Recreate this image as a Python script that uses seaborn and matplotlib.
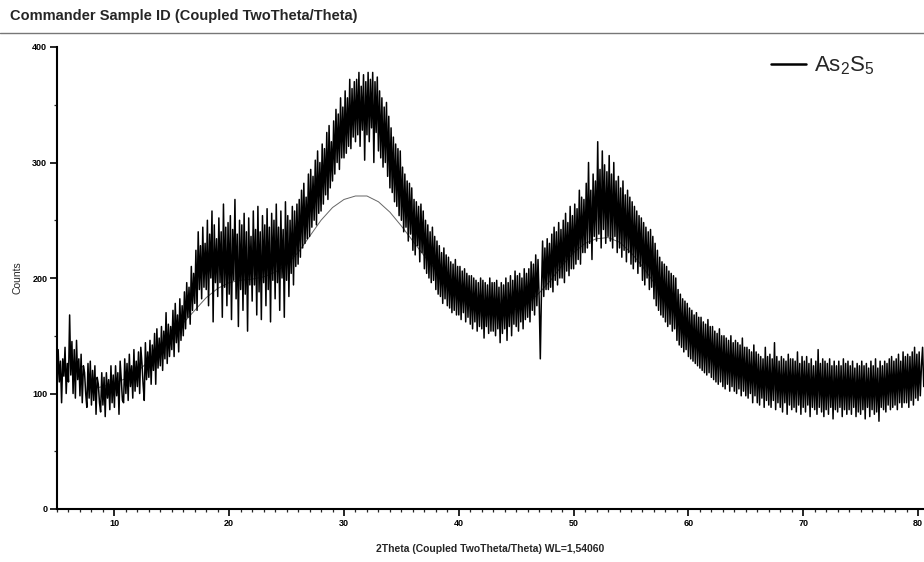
import numpy as np
import pandas as pd
import matplotlib
matplotlib.use("Agg")
import matplotlib.pyplot as plt
import seaborn as sns

# ---- data ----
two_theta_start = 5.0
two_theta_step = 0.1
counts = [
    104, 138, 110, 128, 92, 130, 115, 140, 100, 126,
    110, 168, 116, 145, 100, 138, 96, 146, 112, 130,
    98, 134, 92, 124, 118, 100, 88, 126, 96, 128,
    90, 120, 94, 124, 82, 114, 108, 92, 84, 118,
    90, 114, 80, 118, 96, 112, 86, 124, 92, 116,
    88, 124, 98, 118, 82, 128, 112, 94, 92, 130,
    100, 126, 94, 134, 106, 124, 96, 138, 102, 128,
    106, 136, 100, 140, 126, 108, 94, 144, 112, 136,
    114, 146, 108, 142, 120, 152, 108, 156, 122, 148,
    124, 158, 120, 154, 130, 170, 126, 160, 132, 158,
    138, 172, 132, 178, 144, 168, 136, 182, 146, 176,
    150, 188, 156, 196, 166, 192, 160, 210, 172, 204,
    178, 224, 172, 240, 190, 228, 182, 244, 192, 230,
    190, 250, 176, 238, 200, 258, 162, 246, 196, 234,
    184, 252, 196, 240, 166, 264, 192, 244, 176, 248,
    186, 254, 164, 242, 198, 268, 182, 238, 158, 250,
    190, 246, 172, 256, 186, 240, 154, 252, 194, 236,
    180, 258, 194, 242, 168, 262, 188, 240, 164, 254,
    196, 246, 176, 260, 190, 244, 162, 256, 198, 250,
    182, 264, 196, 244, 172, 258, 200, 242, 166, 266,
    198, 254, 184, 250, 204, 262, 194, 258, 210, 264,
    212, 268, 218, 276, 226, 282, 230, 270, 234, 290,
    236, 294, 244, 288, 250, 302, 246, 310, 256, 300,
    258, 316, 264, 312, 272, 326, 268, 332, 278, 318,
    284, 336, 290, 346, 300, 342, 294, 356, 304, 348,
    304, 362, 308, 356, 314, 372, 312, 364, 322, 370,
    318, 372, 324, 378, 314, 366, 328, 376, 302, 370,
    324, 378, 318, 372, 330, 378, 300, 370, 326, 374,
    310, 362, 304, 356, 296, 348, 300, 352, 288, 340,
    278, 330, 274, 322, 266, 316, 262, 312, 254, 310,
    250, 296, 240, 290, 244, 284, 232, 282, 238, 278,
    224, 268, 220, 266, 228, 262, 214, 264, 222, 258,
    208, 250, 204, 246, 200, 240, 196, 244, 198, 236,
    190, 232, 186, 228, 184, 222, 178, 226, 182, 220,
    176, 218, 174, 214, 170, 212, 172, 216, 168, 210,
    168, 210, 164, 206, 170, 208, 162, 204, 166, 202,
    160, 202, 156, 200, 162, 198, 154, 196, 158, 200,
    156, 198, 148, 196, 158, 194, 152, 200, 154, 196,
    154, 196, 150, 198, 156, 192, 144, 196, 152, 194,
    156, 200, 146, 196, 158, 202, 150, 198, 160, 206,
    158, 202, 154, 204, 162, 200, 156, 208, 164, 204,
    166, 208, 162, 214, 172, 212, 168, 220, 176, 216,
    182, 130, 188, 232, 184, 226, 190, 234, 190, 230,
    192, 238, 188, 244, 198, 240, 194, 248, 200, 242,
    200, 250, 196, 256, 206, 248, 202, 262, 208, 254,
    208, 264, 212, 260, 216, 276, 212, 270, 222, 268,
    222, 282, 226, 300, 230, 276, 216, 290, 236, 284,
    232, 318, 238, 294, 226, 310, 242, 298, 230, 292,
    236, 306, 232, 290, 226, 300, 236, 284, 222, 288,
    226, 278, 218, 284, 224, 272, 214, 276, 222, 270,
    212, 266, 208, 262, 214, 258, 204, 254, 210, 252,
    198, 248, 194, 244, 200, 240, 190, 242, 192, 236,
    182, 230, 176, 224, 172, 218, 168, 214, 166, 212,
    162, 210, 158, 206, 160, 204, 154, 202, 156, 200,
    146, 190, 142, 186, 140, 182, 136, 180, 138, 178,
    132, 174, 130, 172, 128, 168, 126, 170, 124, 166,
    122, 166, 120, 162, 118, 160, 116, 164, 118, 158,
    114, 158, 112, 154, 110, 152, 108, 156, 110, 150,
    106, 150, 104, 148, 108, 146, 102, 150, 106, 144,
    102, 146, 100, 144, 104, 142, 98, 148, 102, 140,
    98, 140, 96, 138, 100, 136, 92, 142, 98, 136,
    92, 134, 90, 132, 96, 130, 88, 140, 94, 132,
    90, 134, 88, 130, 94, 144, 86, 132, 92, 128,
    88, 132, 84, 130, 92, 128, 82, 134, 90, 130,
    86, 130, 88, 128, 84, 136, 90, 126, 82, 132,
    88, 128, 84, 132, 90, 126, 80, 130, 88, 124,
    86, 128, 82, 138, 88, 126, 84, 130, 80, 128,
    86, 126, 82, 130, 88, 124, 78, 128, 86, 124,
    84, 128, 88, 124, 80, 130, 86, 126, 82, 128,
    86, 124, 82, 128, 88, 122, 80, 126, 84, 124,
    82, 128, 86, 124, 78, 126, 88, 122, 80, 128,
    86, 124, 82, 130, 84, 122, 76, 128, 88, 124,
    86, 128, 84, 126, 90, 130, 86, 132, 88, 128,
    90, 130, 86, 134, 92, 128, 88, 136, 92, 132,
    92, 134, 88, 132, 94, 136, 90, 140, 96, 134,
    94, 136, 98, 124, 140, 106,
]

fit_theta = [8, 9, 10, 11, 12, 13, 14, 15, 16, 17, 18, 19, 20, 21, 22, 23, 24, 25,
             26, 27, 28, 29, 30, 31, 32, 33, 34, 35, 36, 37, 38, 39, 40, 41, 42,
             43, 44, 45, 46, 47, 48, 49, 50, 51, 52, 53, 54, 55, 56, 57, 58, 59,
             60, 61, 62, 63, 64, 65, 66]
fit_counts = [104, 106, 109, 113, 119, 128, 139, 150, 161, 172, 183, 191, 196, 198,
              199, 201, 205, 212, 222, 236, 250, 261, 268, 271, 271, 266, 257, 245,
              232, 219, 207, 196, 187, 180, 175, 172, 171, 173, 178, 187, 198, 211,
              222, 230, 234, 235, 231, 222, 210, 196, 181, 167, 154, 143, 134, 126,
              120, 115, 111]

x_ticks = [10, 20, 30, 40, 50, 60, 70, 80]
y_ticks = [0, 100, 200, 300, 400]
title = "Commander Sample ID (Coupled TwoTheta/Theta)"
x_label = "2Theta (Coupled TwoTheta/Theta) WL=1,54060"
y_label = "Counts"
series_label = r"As$_\mathregular{2}$S$_\mathregular{5}$"

# ---- frame ----
two_theta = two_theta_start + two_theta_step * np.arange(len(counts))
df = pd.DataFrame({"two_theta": two_theta, "counts": counts})
fit_df = pd.DataFrame({"two_theta": fit_theta, "counts": fit_counts})

sns.set_style("ticks")
plt.rcParams["font.family"] = ["Liberation Sans", "DejaVu Sans"]
plt.rcParams["mathtext.fontset"] = "custom"
plt.rcParams["mathtext.rm"] = "Liberation Sans"

fig = plt.figure(figsize=(9.24, 5.62), dpi=100)
ax = fig.add_axes([57 / 924, 1 - 509 / 562, 867 / 924, 462 / 562])

sns.lineplot(data=fit_df, x="two_theta", y="counts", ax=ax, color="#666666",
             linewidth=0.7, legend=False, sort=False, zorder=1)
sns.lineplot(data=df, x="two_theta", y="counts", ax=ax, color="black",
             linewidth=1.1, label=series_label, sort=False, zorder=2)

ax.set_xlim(5, 5 + 867 / 11.48)
ax.set_ylim(0, 400)
ax.set_xticks(x_ticks)
ax.set_yticks(y_ticks)
ax.set_xticks(np.arange(5, 81, 1), minor=True)
ax.set_yticks(np.arange(0, 401, 50), minor=True)
ax.tick_params(axis="both", which="major", length=5, width=1.2, labelsize=6.5,
               colors="black", pad=2)
ax.tick_params(axis="both", which="minor", length=2.5, width=0.9)
for lab in ax.get_xticklabels() + ax.get_yticklabels():
    lab.set_fontweight("bold")

for s in ["top", "right"]:
    ax.spines[s].set_visible(False)
for s in ["left", "bottom"]:
    ax.spines[s].set_linewidth(1.5)
    ax.spines[s].set_color("black")

ax.set_xlabel(x_label, fontsize=7.5, fontweight="bold", labelpad=12)
ax.set_ylabel(y_label, fontsize=7.5)
ax.yaxis.set_label_coords(-0.040, 0.5)

leg = ax.legend(loc="upper right", frameon=False, fontsize=16,
                handlelength=1.6, handletextpad=0.33, borderaxespad=0.2,
                bbox_to_anchor=(0.958, 1.012))
for line in leg.get_lines():
    line.set_linewidth(1.8)

fig.text(10 / 924, 1 - 16 / 562, title, fontsize=10.5, fontweight="bold",
         va="center", ha="left")
fig.add_artist(plt.Line2D([0, 1], [1 - 33 / 562, 1 - 33 / 562],
                          color="#777777", linewidth=1.0,
                          transform=fig.transFigure))

fig.savefig("out.png", dpi=100)
